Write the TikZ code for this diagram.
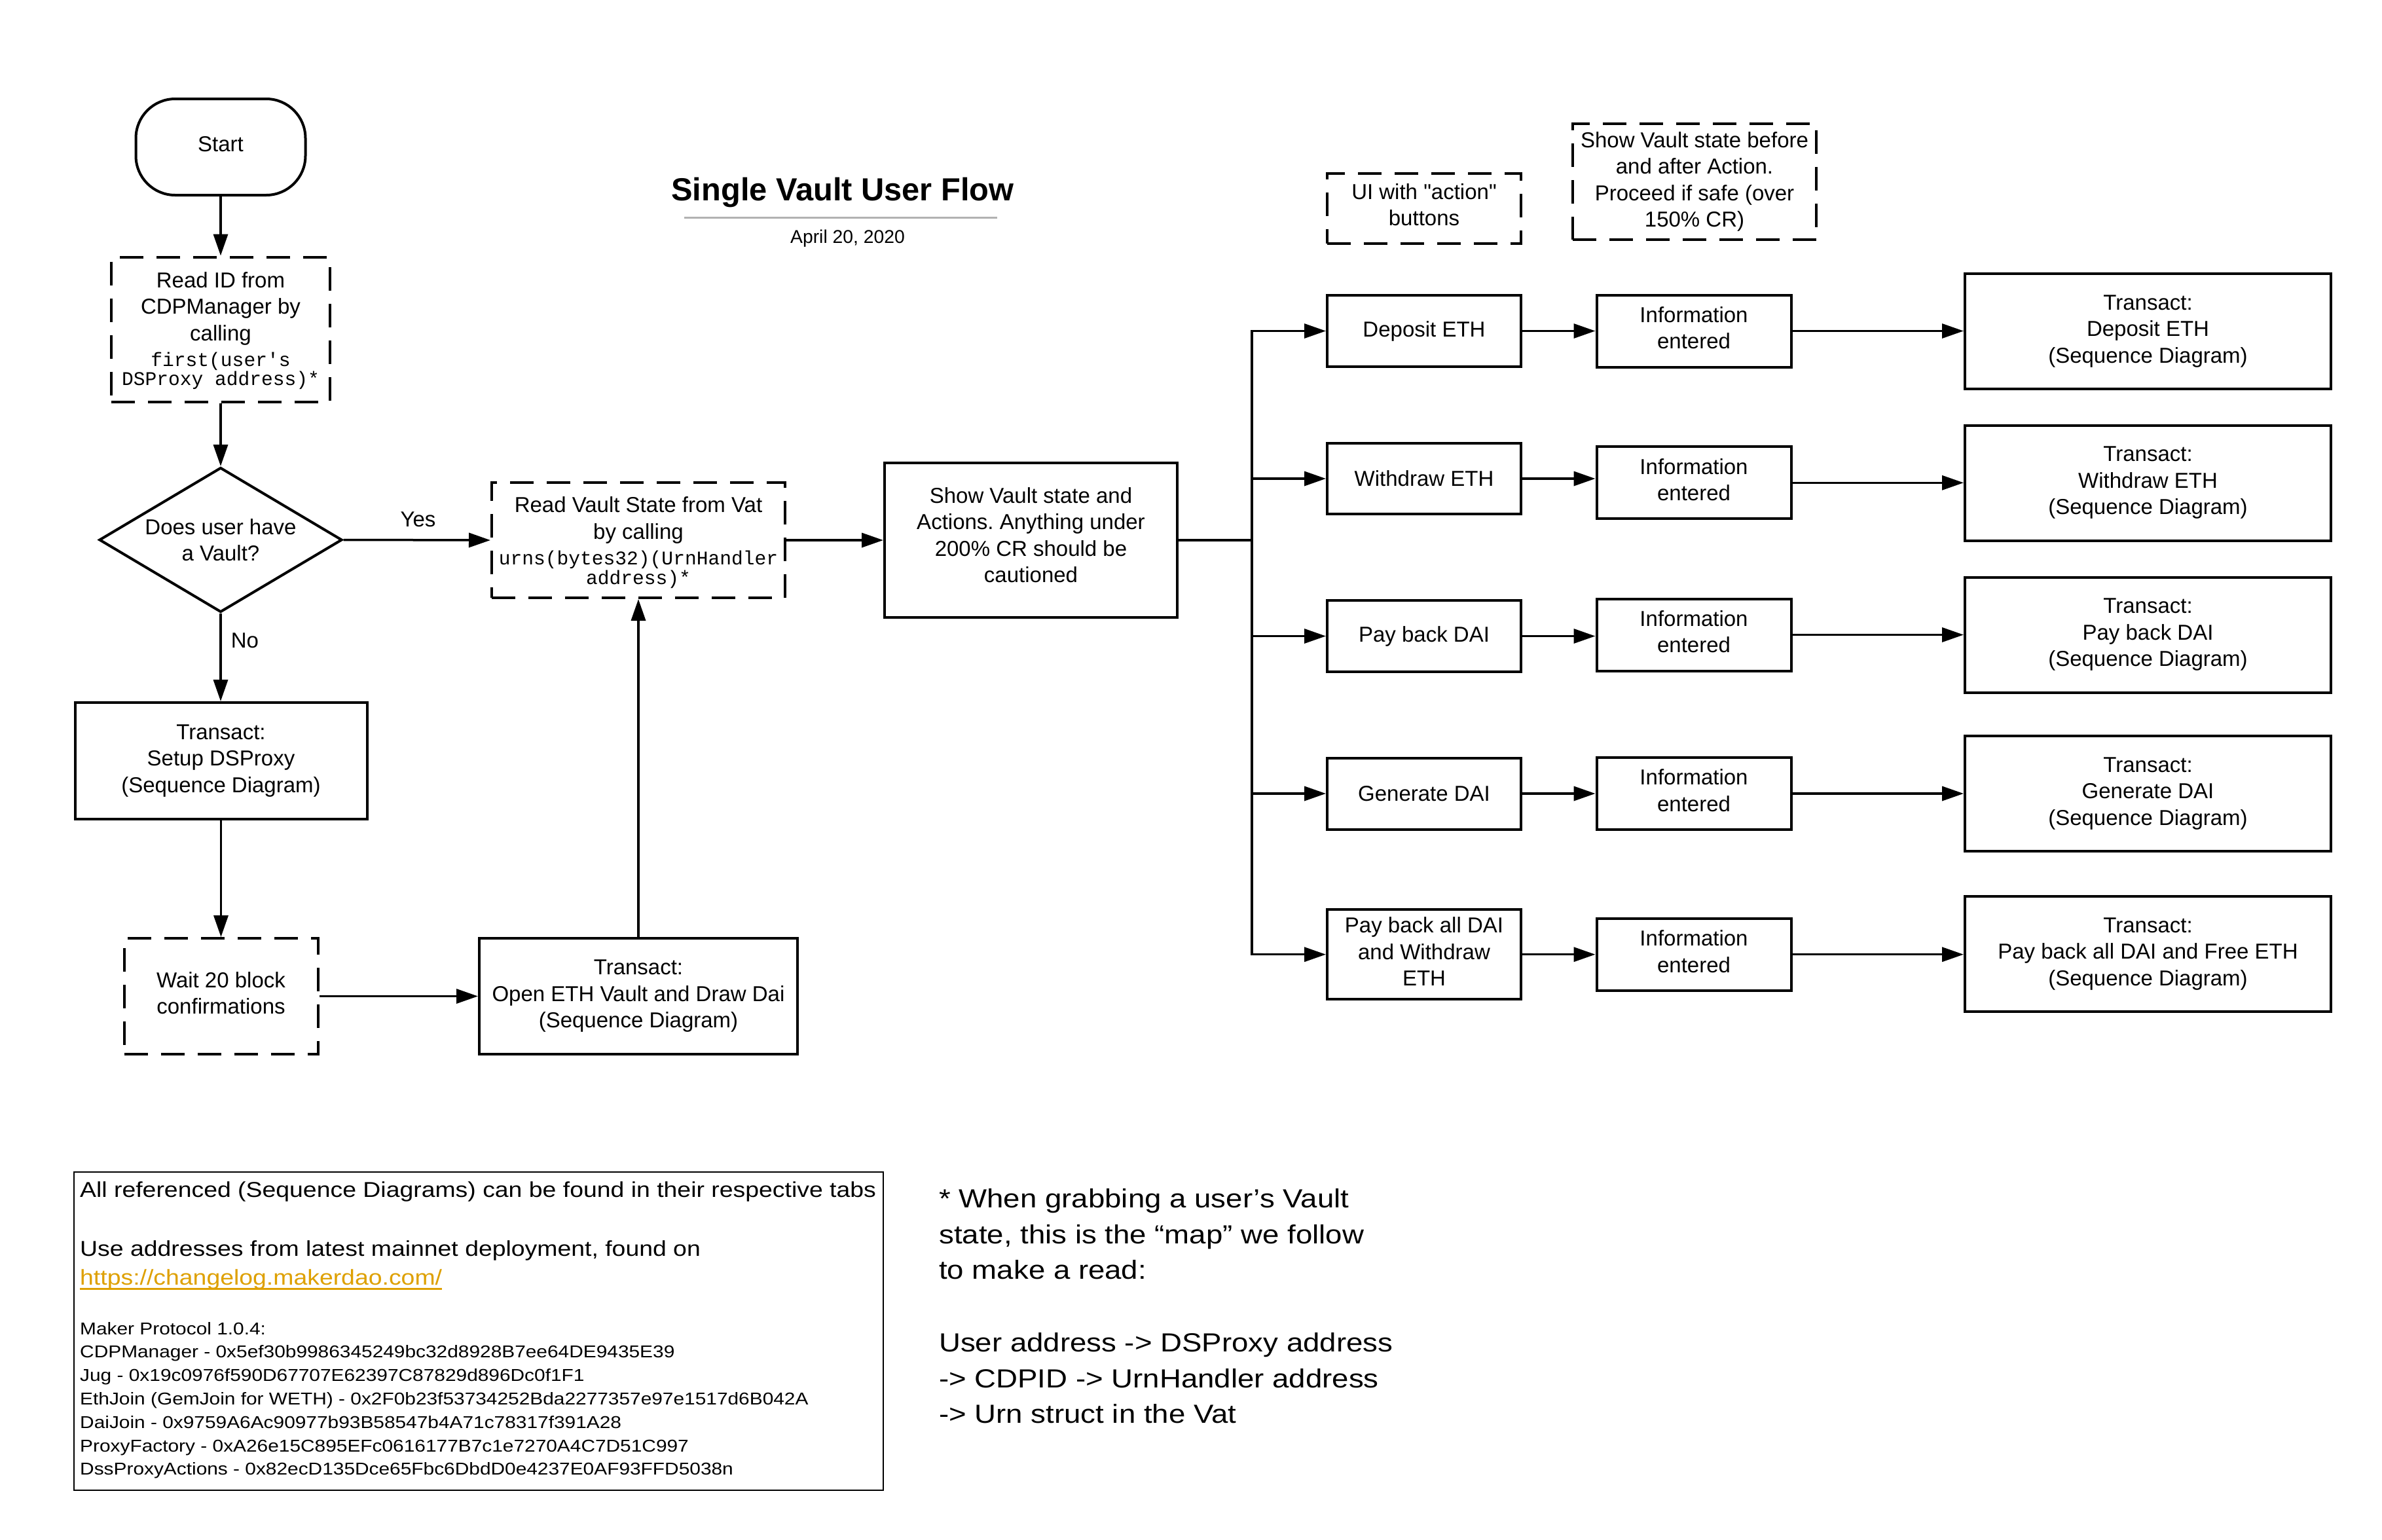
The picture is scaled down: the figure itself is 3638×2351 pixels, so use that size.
\documentclass[tikz,border=0pt]{standalone}
\usepackage{fontspec}
\setmainfont{Liberation Sans}
\newfontfamily\monof{Liberation Mono}
\newfontfamily\nomapf{Liberation Sans}
\newfontfamily\widef[FakeStretch=1.14]{Liberation Sans}
\usetikzlibrary{arrows.meta,shapes.geometric}
\definecolor{linkc}{RGB}{222,160,0}
\definecolor{rulegray}{RGB}{178,178,178}
\newcommand{\mono}[1]{{\monof\fontsize{29.6}{30}\selectfont #1}}
\frenchspacing
\begin{document}
\frenchspacing
\begin{tikzpicture}[x=1pt,y=-1pt,
  box/.style={draw, line width=4pt, inner sep=0pt, align=center, font=\fontsize{33}{40.5}\selectfont},
  dbox/.style={box, dash pattern=on 36pt off 20pt},
  txt/.style={inner sep=0pt, align=center, font=\fontsize{33}{40.5}\selectfont},
  actbox/.style={box, minimum width=296pt, minimum height=109pt},
  infobox/.style={box, minimum width=297pt, minimum height=110pt},
  trbox/.style={box, minimum width=559pt, minimum height=176pt},
  conn/.style={line width=3.5pt, -{Triangle[length=33pt,width=22pt]}},
  plainline/.style={line width=3.5pt},
  notel/.style={inner sep=0pt, anchor=base west, font=\widef\fontsize{32.8}{40}\selectfont},
  notes/.style={inner sep=0pt, anchor=base west, font=\widef\fontsize{26.2}{32}\selectfont},
  footl/.style={inner sep=0pt, anchor=base west, font=\widef\fontsize{40}{50}\selectfont}
]
\fill[white] (0,0) rectangle (3638,2351);
\useasboundingbox (0,0) rectangle (3638,2351);

% title
\node[inner sep=0pt, anchor=base, font=\bfseries\fontsize{48.8}{58}\selectfont] (title) at (1287,306) {Single Vault User Flow};
\draw[rulegray, line width=3.5pt] (1045,332.6) -- (1523,332.6);
\node[inner sep=0pt, anchor=base, font=\fontsize{28.3}{34}\selectfont] (date) at (1294.5,371) {April 20, 2020};

% left column
\node[box, rounded corners=60pt, minimum width=259pt, minimum height=147pt] (start) at (337,224.5) {};
\node[txt] (startt) at (337,220.5) {Start};
\node[dbox, minimum width=334pt, minimum height=221pt] (readid) at (337,503) {};
\node[txt] (readidt) at (337,505) {Read ID from\\CDPManager by\\calling\\[-1.5pt]\mono{first(user's}\\[-10.9pt]\mono{DSProxy address)*}};
\node[box, diamond, aspect=1.667, minimum width=371pt, minimum height=221pt] (dec) at (337,824.5) {Does user have\\a Vault?};
\node[txt] (yes) at (638.5,793) {Yes};
\node[txt] (no) at (374,978) {No};
\node[dbox, minimum width=448pt, minimum height=176pt] (vat) at (975,825) {};
\node[txt] (vatt) at (975,828.5) {Read Vault State from Vat\\by calling\\[-1.5pt]\mono{urns(bytes32)(UrnHandler}\\[-10.5pt]\mono{address)*}};
\node[box, minimum width=446pt, minimum height=178pt] (setup) at (337.5,1162) {Transact:\\Setup DSProxy\\(Sequence Diagram)};
\node[dbox, minimum width=296pt, minimum height=177pt] (wait) at (337.5,1521.5) {};
\node[txt] (waitt) at (337.5,1516.9) {Wait 20 block\\confirmations};
\node[box, minimum width=486pt, minimum height=177pt] (open) at (975,1521.5) {Transact:\\Open ETH Vault and Draw Dai\\(Sequence Diagram)};
\node[box, minimum width=447pt, minimum height=236pt] (show) at (1574.5,825) {};
\node[txt] (showt) at (1574.5,817.4) {Show Vault state and\\Actions. Anything under\\200\% CR should be\\cautioned};

% right part
\coordinate (bus) at (1912,825);
\node[dbox, minimum width=296pt, minimum height=107pt] (ui) at (2175,318.5) {};
\node[txt] (uit) at (2175,312.7) {UI with {\nomapf"action"}\\buttons};
\node[dbox, minimum width=372.5pt, minimum height=177pt] (before) at (2588,277.5) {Show Vault state before\\and after Action.\\Proceed if safe (over\\150\% CR)};

\node[actbox] (dep) at (2175,505.5) {Deposit ETH};
\node[actbox, minimum height=108pt] (wd) at (2175,731) {Withdraw ETH};
\node[actbox] (pb) at (2175,971.5) {Pay back DAI};
\node[actbox] (gen) at (2175,1212) {Generate DAI};
\node[actbox, minimum height=137pt] (pball) at (2175,1457.7) {};
\node[txt] (pballt) at (2175,1453.1) {Pay back all DAI\\and Withdraw\\ETH};

\foreach \n/\y in {i1/505.5, i2/737.3, i3/969.5, i4/1212, i5/1457.7}{
  \node[infobox] (\n) at (2587,\y) {};
  \node[txt] (\n t) at ([yshift=4.6pt]\n.center) {Information\\entered};
}

\node[trbox] (t1) at (3280.5,506) {Transact:\\Deposit ETH\\(Sequence Diagram)};
\node[trbox] (t2) at (3280.5,737.5) {Transact:\\Withdraw ETH\\(Sequence Diagram)};
\node[trbox] (t3) at (3280.5,969.5) {Transact:\\Pay back DAI\\(Sequence Diagram)};
\node[trbox] (t4) at (3280.5,1212) {Transact:\\Generate DAI\\(Sequence Diagram)};
\node[trbox] (t5) at (3280.5,1457) {Transact:\\Pay back all DAI and Free ETH\\(Sequence Diagram)};

% connectors left
\draw[conn] (start.south) -- (readid.north);
\draw[conn] (readid.south) -- (dec.north);
\draw[conn] (dec.east) -- (vat.west);
\draw[conn] (dec.south) -- (dec.south |- setup.north);
\draw[conn] (setup.south) -- (setup.south |- wait.north);
\draw[conn] (wait.east) -- (wait.east -| open.west);
\draw[conn] (open.north) -- (vat.south);
\draw[conn] (vat.east) -- (vat.east -| show.west);
\draw[plainline] (show.east) -- (bus);

% bus and branches
\foreach \a in {dep,wd,pb,gen,pball}{
  \draw[conn] (bus) |- (\a.west);
}
\draw[conn] (dep.east) -- (dep.east -| i1.west);
\draw[conn] (wd.east) -- (wd.east -| i2.west);
\draw[conn] (pb.east) -- (pb.east -| i3.west);
\draw[conn] (gen.east) -- (gen.east -| i4.west);
\draw[conn] (pball.east) -- (pball.east -| i5.west);
\draw[conn] (i1.east) -- (i1.east -| t1.west);
\draw[conn] (i2.east) -- (i2.east -| t2.west);
\draw[conn] (i3.east) -- (i3.east -| t3.west);
\draw[conn] (i4.east) -- (i4.east -| t4.west);
\draw[conn] (i5.east) -- (i5.east -| t5.west);

% note box
\node[draw, line width=2.5pt, inner sep=0pt, minimum width=1236pt, minimum height=486pt] (notebox) at (731,2033) {};
\node[notel] (n1) at (122,1828.5) {All referenced (Sequence Diagrams) can be found in their respective tabs};
\node[notel] (n2) at (122,1918) {Use addresses from latest mainnet deployment, found on};
\node[notel, text=linkc] (lnk) at (122,1962) {https://changelog.makerdao.com/};
\draw[linkc, line width=2.7pt] ([yshift=-6.5pt]lnk.base west) -- ([yshift=-6.5pt]lnk.base east);
\node[notes] (m0) at (122,2038) {Maker Protocol 1.0.4:};
\node[notes] (m1) at (122,2073.4) {CDPManager - 0x5ef30b9986345249bc32d8928B7ee64DE9435E39};
\node[notes] (m2) at (122,2109.7) {Jug - 0x19c0976f590D67707E62397C87829d896Dc0f1F1};
\node[notes] (m3) at (122,2145.5) {EthJoin (GemJoin for WETH) - 0x2F0b23f53734252Bda2277357e97e1517d6B042A};
\node[notes] (m4) at (122,2181) {DaiJoin - 0x9759A6Ac90977b93B58547b4A71c78317f391A28};
\node[notes] (m5) at (122,2217) {ProxyFactory - 0xA26e15C895EFc0616177B7c1e7270A4C7D51C997};
\node[notes] (m6) at (122,2252.5) {DssProxyActions - 0x82ecD135Dce65Fbc6DbdD0e4237E0AF93FFD5038n};

% footnote
\node[footl] (f1) at (1434,1844) {* When grabbing a user’s Vault};
\node[footl] (f2) at (1434,1899) {state, this is the “map” we follow};
\node[footl] (f3) at (1434,1953) {to make a read:};
\node[footl] (f4) at (1434,2064) {User address -> DSProxy address};
\node[footl] (f5) at (1434,2119) {-> CDPID -> UrnHandler address};
\node[footl] (f6) at (1434,2173) {-> Urn struct in the Vat};
\end{tikzpicture}
\end{document}
